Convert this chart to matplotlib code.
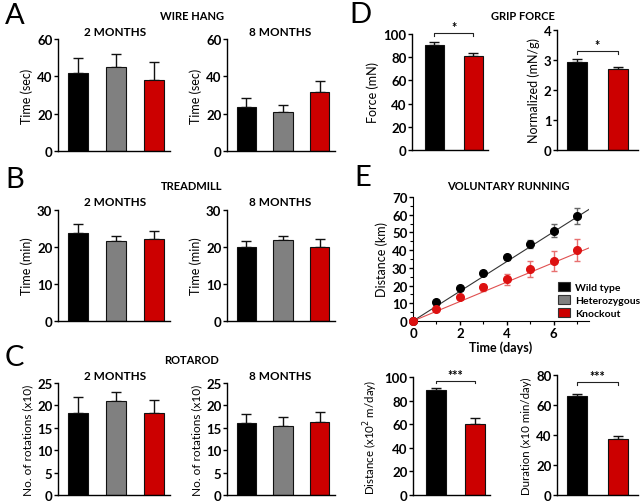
import numpy as np
import matplotlib
matplotlib.use("Agg")
import matplotlib.pyplot as plt
from matplotlib.patches import Patch
from matplotlib.ticker import MultipleLocator

plt.rcParams['font.family'] = ['Lato', 'DejaVu Sans']
plt.rcParams['font.size'] = 9

W, H = 642, 502

# genotype colours
BLACK = '#000000'
GRAY = '#808080'
RED = '#cc0000'
groups = ['Wild type', 'Heterozygous', 'Knockout']

# A: wire hang (sec)
wire_2m = [41.7, 45.0, 37.8]
wire_2m_err = [7.9, 7.0, 10.0]
wire_8m = [23.6, 21.1, 31.4]
wire_8m_err = [4.7, 3.6, 5.9]

# B: treadmill (min)
tread_2m = [23.9, 21.6, 22.1]
tread_2m_err = [2.2, 1.5, 2.1]
tread_8m = [20.1, 21.9, 20.1]
tread_8m_err = [1.5, 1.1, 2.1]

# C: rotarod (x10 rotations)
rota_2m = [18.4, 20.9, 18.3]
rota_2m_err = [3.4, 2.2, 3.0]
rota_8m = [16.1, 15.3, 16.2]
rota_8m_err = [1.9, 2.1, 2.4]

# D: grip force
grip = [90.8, 81.3]
grip_err = [2.6, 2.0]
grip_norm = [2.94, 2.71]
grip_norm_err = [0.08, 0.06]

# E: voluntary running
days = [0, 1, 2, 3, 4, 5, 6, 7]
wt_dist = [0, 10.5, 18.5, 27.0, 36.0, 43.5, 51.0, 59.5]
wt_err = [0, 1.0, 1.0, 1.0, 1.5, 2.5, 3.5, 4.5]
ko_dist = [0, 7.0, 13.5, 19.0, 23.5, 29.5, 34.0, 40.0]
ko_err = [0, 1.0, 1.0, 2.0, 3.2, 4.5, 5.5, 6.2]
wt_slope = 8.4
ko_slope = 5.5
run_dist = [88.6, 60.2]
run_dist_err = [2.3, 4.8]
run_dur = [65.7, 37.6]
run_dur_err = [1.8, 1.8]

fig = plt.figure(figsize=(W / 100, H / 100), dpi=100)


def px_axes(l, t, r, b):
    return fig.add_axes([l / W, 1 - b / H, (r - l) / W, (b - t) / H])


def fig_text(x, y, s, **kw):
    fig.text(x / W, 1 - y / H, s, **kw)


def style(ax):
    for s in ['top', 'right']:
        ax.spines[s].set_visible(False)
    for s in ['left', 'bottom']:
        ax.spines[s].set_linewidth(1.0)
    ax.tick_params(axis='y', direction='out', length=3, width=1, pad=1,
                   labelsize=9.5)
    ax.tick_params(axis='x', length=0, labelbottom=False)


def bar_panel(ax, vals, errs, colors, ymax, step, ylabel, xlim, width=0.52,
              lsize=9):
    x = np.arange(len(vals))
    ax.bar(x, vals, width, color=colors, edgecolor='#111111', linewidth=0.8,
           zorder=2)
    ax.errorbar(x, vals, yerr=[np.zeros(len(errs)), errs], fmt='none',
                ecolor='#111111', elinewidth=1.0, capsize=3.5, capthick=1.0,
                zorder=1)
    ax.set_ylim(0, ymax)
    ax.set_yticks(np.arange(0, ymax + 0.001, step))
    ax.set_xlim(*xlim)
    ax.set_ylabel(ylabel, fontsize=lsize, labelpad=3)
    style(ax)
    ax.set_yticklabels([f'{v:g}' for v in ax.get_yticks()], fontweight='bold')


def bracket(ax, x1, x2, y, h, txt):
    ax.plot([x1, x1, x2, x2], [y - h, y, y, y - h], color='#222222', lw=0.8,
            clip_on=False)
    ax.text((x1 + x2) / 2, y, txt, ha='center', va='bottom', fontsize=9,
            fontweight='bold', clip_on=False)


three = [BLACK, GRAY, RED]
two = [BLACK, RED]
xl3 = (-0.53, 2.42)

# A
ax = px_axes(58, 40, 170, 152)
bar_panel(ax, wire_2m, wire_2m_err, three, 60, 20, 'Time (sec)', xl3)
ax = px_axes(227, 40, 335, 152)
bar_panel(ax, wire_8m, wire_8m_err, three, 60, 20, 'Time (sec)', xl3)

# B
ax = px_axes(58, 211, 170, 322)
bar_panel(ax, tread_2m, tread_2m_err, three, 30, 10, 'Time (min)', xl3)
ax = px_axes(227, 211, 335, 322)
bar_panel(ax, tread_8m, tread_8m_err, three, 30, 10, 'Time (min)', xl3)

# C
ax = px_axes(58, 384, 170, 496)
bar_panel(ax, rota_2m, rota_2m_err, three, 25, 5, 'No. of rotations (x10)',
          xl3, lsize=8.5)
ax = px_axes(227, 384, 335, 496)
bar_panel(ax, rota_8m, rota_8m_err, three, 25, 5, 'No. of rotations (x10)',
          xl3, lsize=8.5)

# D
ax = px_axes(412, 35, 488, 151)
bar_panel(ax, grip, grip_err, two, 100, 20, 'Force (mN)', (-0.58, 1.38), 0.5)
bracket(ax, 0, 1, 101, 2.5, '*')
ax = px_axes(557, 31, 638, 151)
bar_panel(ax, grip_norm, grip_norm_err, two, 4, 1, 'Normalized (mN/g)',
          (-0.49, 1.49), 0.5)
bracket(ax, 0, 1, 3.3, 0.1, '*')

# E top: cumulative running distance
ax = px_axes(413, 198, 589, 322)
xx = np.array([0, 7.5])
ax.plot(xx, wt_slope * xx, color='#333333', lw=0.8, zorder=1)
ax.plot(xx, ko_slope * xx, color='#e05050', lw=0.8, zorder=1)
ax.errorbar(days, wt_dist, yerr=wt_err, fmt='o', color=BLACK, ms=5.5,
            ecolor='#666666', elinewidth=1, capsize=2.5, zorder=3,
            clip_on=False)
ax.errorbar(days, ko_dist, yerr=ko_err, fmt='o', color='#dd1111', ms=5.5,
            ecolor='#e87070', elinewidth=1, capsize=2.5, zorder=3,
            clip_on=False)
ax.set_xlim(0, 7.5)
ax.set_ylim(0, 70)
ax.set_xticks([0, 2, 4, 6])
ax.set_yticks(np.arange(0, 71, 10))
ax.xaxis.set_minor_locator(MultipleLocator(1))
ax.yaxis.set_minor_locator(MultipleLocator(5))
for s in ['top', 'right']:
    ax.spines[s].set_visible(False)
ax.tick_params(which='major', length=3, width=1, pad=1, labelsize=9.5)
ax.tick_params(which='minor', length=2, width=0.8)
for lab in ax.get_xticklabels() + ax.get_yticklabels():
    lab.set_fontweight('bold')
ax.set_ylabel('Distance (km)', fontsize=9, labelpad=3)
ax.set_xlabel('Time (days)', fontsize=9, fontweight='bold', labelpad=1)
handles = [Patch(facecolor=c, edgecolor='#333333', linewidth=0.8)
           for c in three]
leg = fig.legend(handles, groups, loc='upper left',
                 bbox_to_anchor=(551 / W, 1 - 276 / H), frameon=False,
                 handlelength=1.1, handleheight=0.9, handletextpad=0.55,
                 labelspacing=0.3, borderpad=0.2,
                 prop={'weight': 'bold', 'size': 7.5})

# E bottom
ax = px_axes(413, 378, 490, 496)
bar_panel(ax, run_dist, run_dist_err, two, 100, 20,
          'Distance (x10$^2$ m/day)', (-0.58, 1.38), 0.5, lsize=8.3)
bracket(ax, 0, 1, 97, 2.5, '***')
ax = px_axes(557, 376, 638, 496)
bar_panel(ax, run_dur, run_dur_err, two, 80, 20, 'Duration (x10 min/day)',
          (-0.49, 1.49), 0.5, lsize=8.3)
bracket(ax, 0, 1, 75.5, 2, '***')

# titles
tkw = dict(ha='center', va='center', fontweight='bold')
fig_text(192, 17, 'WIRE HANG', fontsize=8, **tkw)
fig_text(115, 33, '2 MONTHS', fontsize=8.5, **tkw)
fig_text(280, 33, '8 MONTHS', fontsize=8.5, **tkw)
fig_text(192, 187, 'TREADMILL', fontsize=8, **tkw)
fig_text(115, 203, '2 MONTHS', fontsize=8.5, **tkw)
fig_text(280, 203, '8 MONTHS', fontsize=8.5, **tkw)
fig_text(192, 360, 'ROTAROD', fontsize=8, **tkw)
fig_text(115, 377, '2 MONTHS', fontsize=8.5, **tkw)
fig_text(280, 377, '8 MONTHS', fontsize=8.5, **tkw)
fig_text(523, 17, 'GRIP FORCE', fontsize=8, **tkw)
fig_text(508, 186, 'VOLUNTARY RUNNING', fontsize=8, **tkw)

# panel letters
lkw = dict(ha='left', va='center', fontsize=21)
fig_text(5, 16, 'A', **lkw)
fig_text(5, 180, 'B', **lkw)
fig_text(5, 358, 'C', **lkw)
fig_text(349, 15, 'D', **lkw)
fig_text(354, 178, 'E', **lkw)

fig.savefig('out.png', dpi=100)
